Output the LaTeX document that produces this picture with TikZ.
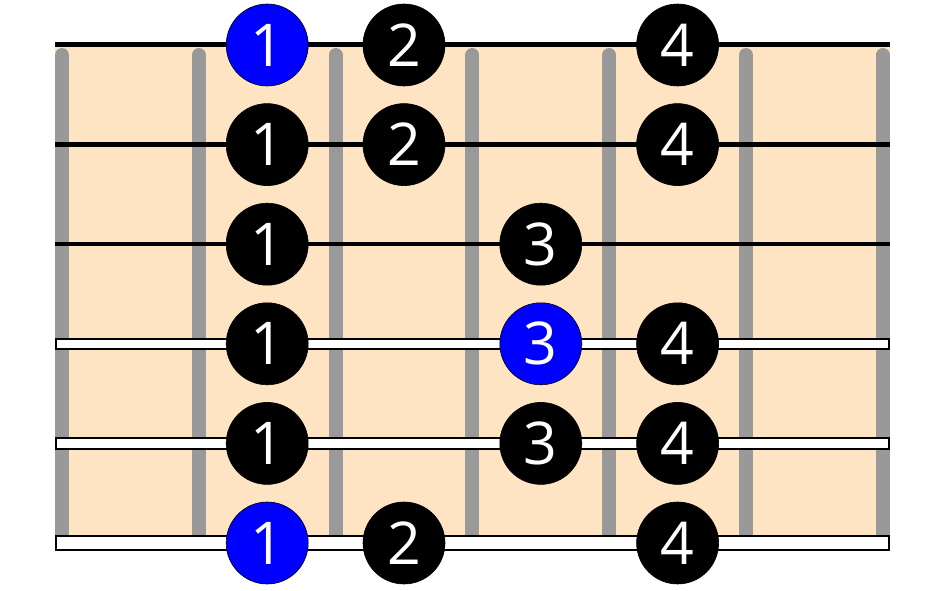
\documentclass[tikz,border=0pt]{standalone}
\usepackage{fontspec}
\newfontfamily\dotfont{Open Sans}
\usepackage{tikz}
\usetikzlibrary{positioning}
\definecolor{neck}{RGB}{255,228,196}
\definecolor{fretgray}{RGB}{153,153,153}

\begin{document}
\begin{tikzpicture}[x=1pt,y=-1pt,node distance=136.8pt,on grid,
    finger/.style={circle,draw=black,line width=0.6pt,fill=black,text=white,
      minimum size=82pt,inner sep=0pt,font=\dotfont\fontsize{59}{59}\selectfont},
    root/.style={finger,fill=blue}]
    \useasboundingbox (0,0) rectangle (945,591);
    % fretboard
    \fill[neck] (55,42) rectangle (890,535);
    \foreach \x in {62,198.8,335.6,472.4,609.2,746,882.8}
        \draw[fretgray,line width=14pt,line cap=round] (\x,55) -- (\x,541);
    % plain strings
    \draw[line width=5pt] (55,45) -- (890,45);
    \draw[line width=5pt] (55,144.6) -- (890,144.6);
    \draw[line width=4.5pt] (55,244.2) -- (890,244.2);
    % wound strings
    \draw[fill=white,line width=2pt] (56,338.8) rectangle (889,349.2);
    \draw[fill=white,line width=2pt] (56,438.4) rectangle (889,448.8);
    \draw[fill=white,line width=2pt] (56,535.5) rectangle (889,549.5);
    % fingers
    \node[root] (e1) at (267.2,45) {1};
    \node[finger] (e2) [right=of e1] {2};
    \node[finger] (e4) [right=273.6pt of e2] {4};
    \node[finger] (b1) [below=99.6pt of e1] {1};
    \node[finger] (b2) [right=of b1] {2};
    \node[finger] (b4) [right=273.6pt of b2] {4};
    \node[finger] (g1) [below=99.6pt of b1] {1};
    \node[finger] (g3) [right=273.6pt of g1] {3};
    \node[finger] (d1) [below=99.6pt of g1] {1};
    \node[root] (d3) [right=273.6pt of d1] {3};
    \node[finger] (d4) [right=of d3] {4};
    \node[finger] (a1) [below=99.6pt of d1] {1};
    \node[finger] (a3) [right=273.6pt of a1] {3};
    \node[finger] (a4) [right=of a3] {4};
    \node[root] (low1) [below=99.6pt of a1] {1};
    \node[finger] (low2) [right=of low1] {2};
    \node[finger] (low4) [right=273.6pt of low2] {4};
\end{tikzpicture}
\end{document}
